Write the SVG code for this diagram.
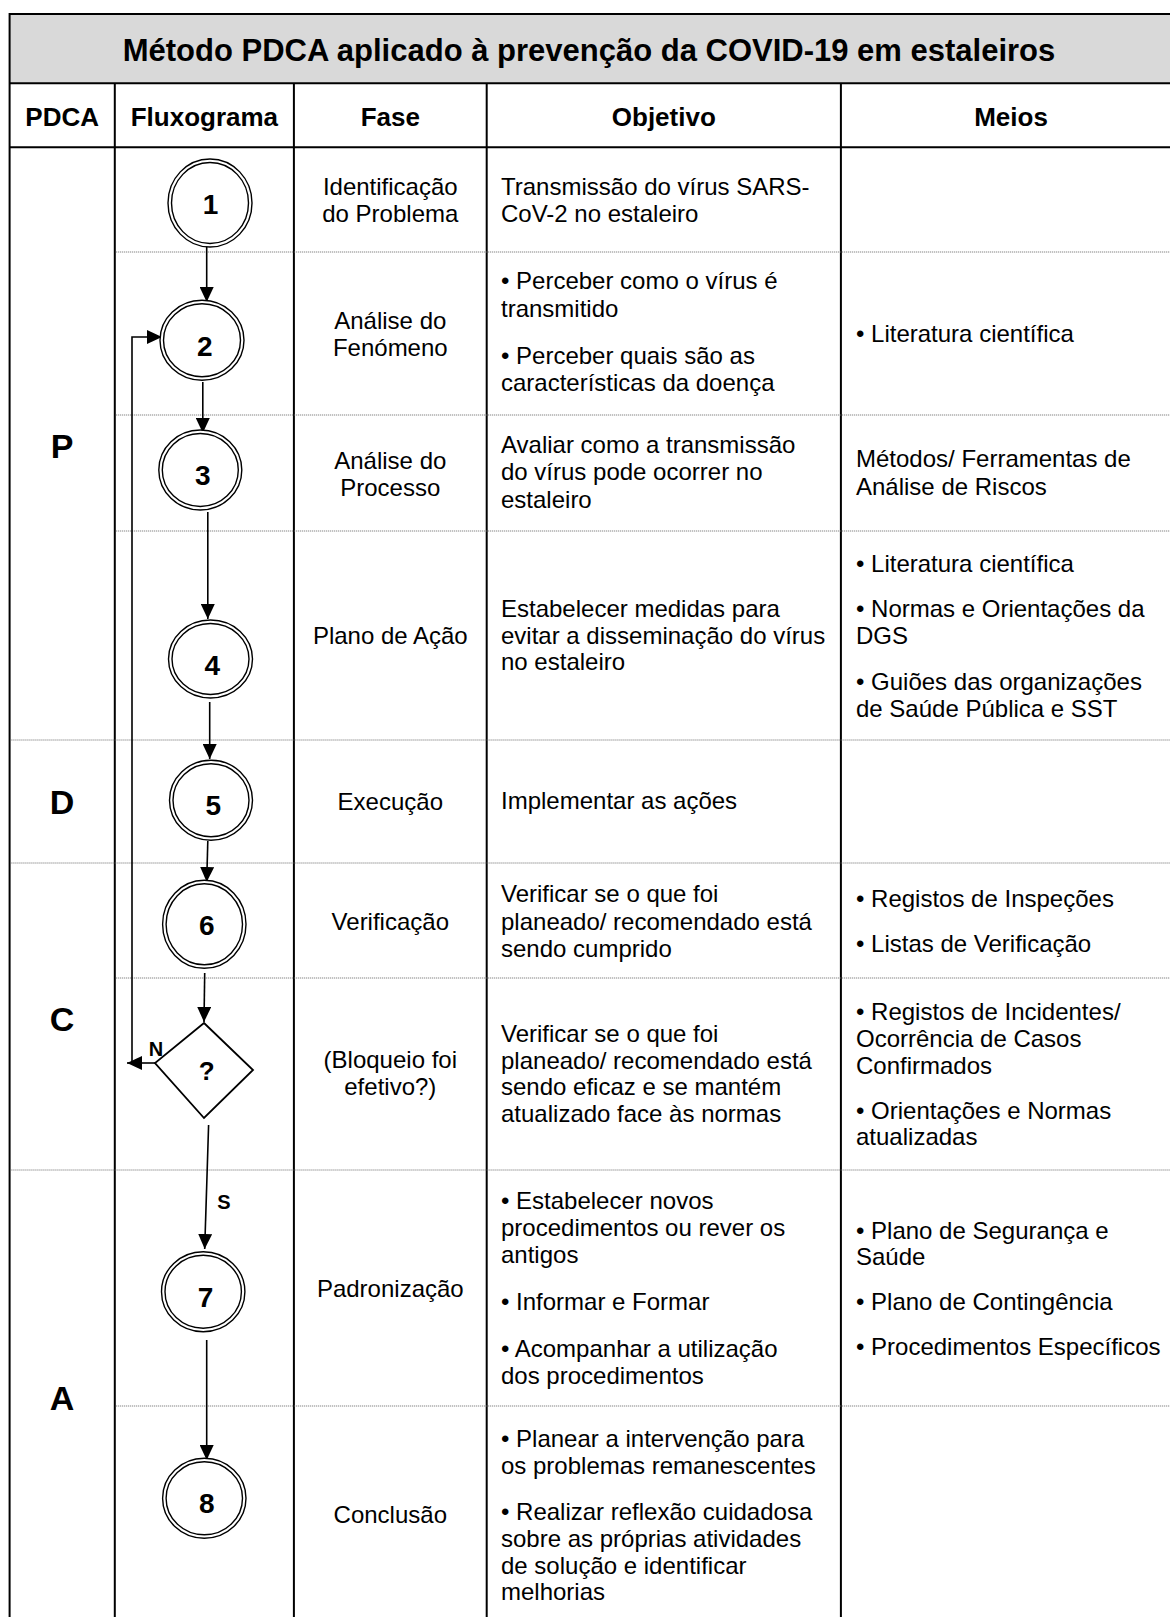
<svg xmlns="http://www.w3.org/2000/svg" width="1170" height="1617" viewBox="0 0 1170 1617">
  <defs>
    <style>
      text { font-family: "Liberation Sans", Arial, sans-serif; fill: #000; }
      .body { font-size: 24px; }
      .mid { text-anchor: middle; }
      .head { font-size: 26px; font-weight: bold; text-anchor: middle; }
      .title { font-size: 31px; font-weight: bold; text-anchor: middle; }
      .phase { font-size: 34px; font-weight: bold; text-anchor: middle; }
      .num { font-size: 28px; font-weight: bold; text-anchor: middle; }
      .lbl { font-size: 20px; font-weight: bold; text-anchor: middle; }
      .rule { stroke: #000; stroke-width: 2; fill: none; }
      .dots { stroke: #666; stroke-width: 1; stroke-dasharray: 1 1; fill: none; }
      .ring { fill: #fff; stroke: #000; stroke-width: 1.4; }
      .ring2 { fill: none; stroke: #000; stroke-width: 1.4; }
      .flow { stroke: #000; stroke-width: 1.6; fill: none; marker-end: url(#head); }
    </style>
    <marker id="head" viewBox="0 0 15 14" refX="15" refY="7" markerWidth="15" markerHeight="14" markerUnits="userSpaceOnUse" orient="auto">
      <path d="M0,0 L15,7 L0,14 z" fill="#000"/>
    </marker>
  </defs>

  <rect width="1170" height="1617" fill="#fff"/>

  <!-- table frame -->
  <g id="table">
    <rect x="9.6" y="14" width="1172" height="69.3" fill="#d9d9d9"/>
    <rect class="rule" x="9.6" y="14" width="1172" height="1620"/>
    <line class="rule" x1="9.6" y1="83.3" x2="1182" y2="83.3"/>
    <line class="rule" x1="9.6" y1="147.3" x2="1182" y2="147.3"/>
    <line class="rule" x1="114.8" y1="83.3" x2="114.8" y2="1634"/>
    <line class="rule" x1="293.9" y1="83.3" x2="293.9" y2="1634"/>
    <line class="rule" x1="486.7" y1="83.3" x2="486.7" y2="1634"/>
    <line class="rule" x1="840.9" y1="83.3" x2="840.9" y2="1634"/>
    <!-- row separators -->
    <line class="dots" x1="115.8" y1="252" x2="1182" y2="252"/>
    <line class="dots" x1="115.8" y1="415" x2="1182" y2="415"/>
    <line class="dots" x1="115.8" y1="531" x2="1182" y2="531"/>
    <line class="dots" x1="10.6" y1="740" x2="1182" y2="740"/>
    <line class="dots" x1="10.6" y1="863" x2="1182" y2="863"/>
    <line class="dots" x1="115.8" y1="978" x2="1182" y2="978"/>
    <line class="dots" x1="10.6" y1="1170" x2="1182" y2="1170"/>
    <line class="dots" x1="115.8" y1="1406" x2="1182" y2="1406"/>
  </g>

  <!-- title and headings -->
  <g id="headings">
    <text class="title" x="589" y="61">Método PDCA aplicado à prevenção da COVID-19 em estaleiros</text>
    <text class="head" x="62.2" y="126">PDCA</text>
    <text class="head" x="204.4" y="126">Fluxograma</text>
    <text class="head" x="390.3" y="126">Fase</text>
    <text class="head" x="663.8" y="126">Objetivo</text>
    <text class="head" x="1011" y="126">Meios</text>
  </g>

  <!-- PDCA stages -->
  <g id="stages">
    <text class="phase" x="62" y="458">P</text>
    <text class="phase" x="62" y="814">D</text>
    <text class="phase" x="62" y="1031">C</text>
    <text class="phase" x="62" y="1410">A</text>
  </g>

  <!-- connectors -->
  <g id="connectors">
    <path class="flow" d="M206.7,246 L206.7,302"/>
    <path class="flow" d="M202.8,382 L202.8,433"/>
    <path class="flow" d="M207.8,512 L207.8,619"/>
    <path class="flow" d="M209.7,702 L209.7,759"/>
    <path class="flow" d="M207.8,841 L206.7,882"/>
    <path class="flow" d="M204.7,973 L204,1022"/>
    <path class="flow" d="M208.6,1125 L204.7,1249"/>
    <path class="flow" d="M206.7,1340 L206.7,1460"/>
    <path class="flow" d="M155,1063 L127,1063"/>
    <path class="flow" d="M132,1063 L132,337 L162,337"/>
    <text class="lbl" x="156" y="1056">N</text>
    <text class="lbl" x="224" y="1209">S</text>
  </g>

  <!-- flowchart nodes -->
  <g id="node-1">
    <ellipse class="ring" cx="210" cy="203" rx="42" ry="44"/>
    <ellipse class="ring2" cx="210" cy="203" rx="38.5" ry="40.5"/>
    <text class="num" x="210.5" y="213.5">1</text>
  </g>
  <g id="node-2">
    <ellipse class="ring" cx="202" cy="340.3" rx="42" ry="40"/>
    <ellipse class="ring2" cx="202" cy="340.3" rx="38.5" ry="36.5"/>
    <text class="num" x="204.7" y="356">2</text>
  </g>
  <g id="node-3">
    <ellipse class="ring" cx="200.3" cy="470" rx="41.5" ry="40"/>
    <ellipse class="ring2" cx="200.3" cy="470" rx="38" ry="36.5"/>
    <text class="num" x="202.8" y="484.5">3</text>
  </g>
  <g id="node-4">
    <ellipse class="ring" cx="210.5" cy="659" rx="42" ry="39"/>
    <ellipse class="ring2" cx="210.5" cy="659" rx="38.5" ry="35.5"/>
    <text class="num" x="212.4" y="675">4</text>
  </g>
  <g id="node-5">
    <ellipse class="ring" cx="211" cy="800.3" rx="41.5" ry="40"/>
    <ellipse class="ring2" cx="211" cy="800.3" rx="38" ry="36.5"/>
    <text class="num" x="213.2" y="815">5</text>
  </g>
  <g id="node-6">
    <ellipse class="ring" cx="204.3" cy="924.3" rx="41.7" ry="44"/>
    <ellipse class="ring2" cx="204.3" cy="924.3" rx="38.2" ry="40.5"/>
    <text class="num" x="206.7" y="935">6</text>
  </g>
  <g id="node-decision">
    <polygon points="204,1023 253,1070 204,1118 155,1063" fill="#fff" stroke="#000" stroke-width="1.8"/>
    <text class="num" x="206.7" y="1080" style="font-size:26px">?</text>
  </g>
  <g id="node-7">
    <ellipse class="ring" cx="203.2" cy="1291.7" rx="41.7" ry="40"/>
    <ellipse class="ring2" cx="203.2" cy="1291.7" rx="38.2" ry="36.5"/>
    <text class="num" x="205.5" y="1307">7</text>
  </g>
  <g id="node-8">
    <ellipse class="ring" cx="204.3" cy="1498.3" rx="41.7" ry="40"/>
    <ellipse class="ring2" cx="204.3" cy="1498.3" rx="38.2" ry="36.5"/>
    <text class="num" x="206.7" y="1513">8</text>
  </g>

  <!-- Fase column -->
  <g id="fase">
    <text class="body mid" x="390.3" y="195">Identificação</text>
    <text class="body mid" x="390.3" y="222">do Problema</text>
    <text class="body mid" x="390.3" y="328.5">Análise do</text>
    <text class="body mid" x="390.3" y="356">Fenómeno</text>
    <text class="body mid" x="390.3" y="468.5">Análise do</text>
    <text class="body mid" x="390.3" y="496">Processo</text>
    <text class="body mid" x="390.3" y="643.5">Plano de Ação</text>
    <text class="body mid" x="390.3" y="810">Execução</text>
    <text class="body mid" x="390.3" y="930">Verificação</text>
    <text class="body mid" x="390.3" y="1067.5">(Bloqueio foi</text>
    <text class="body mid" x="390.3" y="1095">efetivo?)</text>
    <text class="body mid" x="390.3" y="1296.5">Padronização</text>
    <text class="body mid" x="390.3" y="1522.5">Conclusão</text>
  </g>

  <!-- Objetivo column -->
  <g id="objetivo">
    <text class="body" x="501" y="195">Transmissão do vírus SARS-</text>
    <text class="body" x="501" y="222">CoV-2 no estaleiro</text>
    <text class="body" x="501" y="289">• Perceber como o vírus é</text>
    <text class="body" x="501" y="316.5">transmitido</text>
    <text class="body" x="501" y="363.5">• Perceber quais são as</text>
    <text class="body" x="501" y="390.5">características da doença</text>
    <text class="body" x="501" y="452.5">Avaliar como a transmissão</text>
    <text class="body" x="501" y="480">do vírus pode ocorrer no</text>
    <text class="body" x="501" y="508">estaleiro</text>
    <text class="body" x="501" y="616.5">Estabelecer medidas para</text>
    <text class="body" x="501" y="643.5">evitar a disseminação do vírus</text>
    <text class="body" x="501" y="670">no estaleiro</text>
    <text class="body" x="501" y="808.5">Implementar as ações</text>
    <text class="body" x="501" y="902">Verificar se o que foi</text>
    <text class="body" x="501" y="929.5">planeado/ recomendado está</text>
    <text class="body" x="501" y="956.5">sendo cumprido</text>
    <text class="body" x="501" y="1041.5">Verificar se o que foi</text>
    <text class="body" x="501" y="1068.5">planeado/ recomendado está</text>
    <text class="body" x="501" y="1095">sendo eficaz e se mantém</text>
    <text class="body" x="501" y="1121.5">atualizado face às normas</text>
    <text class="body" x="501" y="1208.5">• Estabelecer novos</text>
    <text class="body" x="501" y="1236">procedimentos ou rever os</text>
    <text class="body" x="501" y="1263">antigos</text>
    <text class="body" x="501" y="1309.5">• Informar e Formar</text>
    <text class="body" x="501" y="1356.5">• Acompanhar a utilização</text>
    <text class="body" x="501" y="1383.5">dos procedimentos</text>
    <text class="body" x="501" y="1446.5">• Planear a intervenção para</text>
    <text class="body" x="501" y="1473.5">os problemas remanescentes</text>
    <text class="body" x="501" y="1520">• Realizar reflexão cuidadosa</text>
    <text class="body" x="501" y="1546.5">sobre as próprias atividades</text>
    <text class="body" x="501" y="1573.5">de solução e identificar</text>
    <text class="body" x="501" y="1600">melhorias</text>
  </g>

  <!-- Meios column -->
  <g id="meios">
    <text class="body" x="856" y="341.5">• Literatura científica</text>
    <text class="body" x="856" y="466.5">Métodos/ Ferramentas de</text>
    <text class="body" x="856" y="495">Análise de Riscos</text>
    <text class="body" x="856" y="571.5">• Literatura científica</text>
    <text class="body" x="856" y="616.5">• Normas e Orientações da</text>
    <text class="body" x="856" y="643.5">DGS</text>
    <text class="body" x="856" y="690">• Guiões das organizações</text>
    <text class="body" x="856" y="716.5">de Saúde Pública e SST</text>
    <text class="body" x="856" y="906.5">• Registos de Inspeções</text>
    <text class="body" x="856" y="951.5">• Listas de Verificação</text>
    <text class="body" x="856" y="1020">• Registos de Incidentes/</text>
    <text class="body" x="856" y="1046.5">Ocorrência de Casos</text>
    <text class="body" x="856" y="1073.5">Confirmados</text>
    <text class="body" x="856" y="1118.5">• Orientações e Normas</text>
    <text class="body" x="856" y="1145">atualizadas</text>
    <text class="body" x="856" y="1238.5">• Plano de Segurança e</text>
    <text class="body" x="856" y="1265">Saúde</text>
    <text class="body" x="856" y="1310">• Plano de Contingência</text>
    <text class="body" x="856" y="1355">• Procedimentos Específicos</text>
  </g>
</svg>
